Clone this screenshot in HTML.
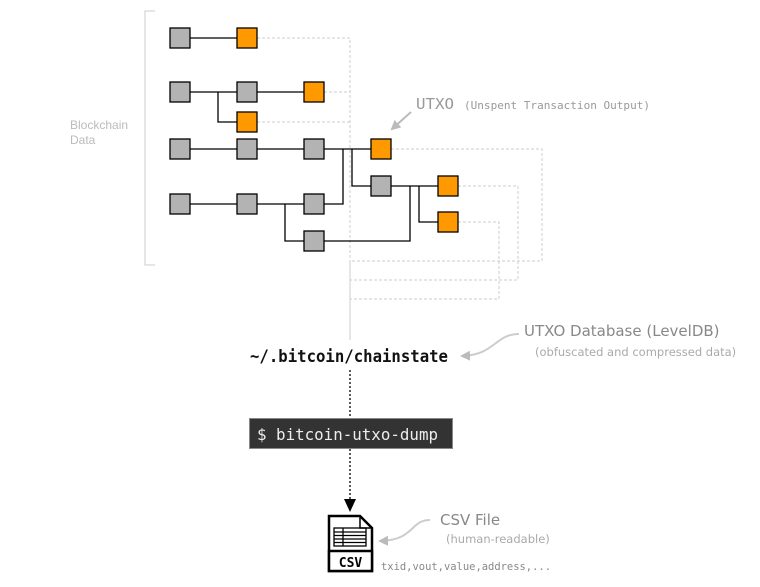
<!DOCTYPE html>
<html><head><meta charset="utf-8"><style>
html,body{margin:0;padding:0;background:#fff;}
</style></head><body>
<svg width="760" height="582" viewBox="0 0 760 582" xmlns="http://www.w3.org/2000/svg">
<defs>
<marker id="ga" markerWidth="10" markerHeight="10" refX="8" refY="5" orient="auto" markerUnits="userSpaceOnUse"><path d="M0,0 L10,5 L0,10 z" fill="#bbb"/></marker>
</defs>
<path d="M155,11 H145 V265 H155" fill="none" stroke="#ccc" stroke-width="1"/>
<text x="70" y="129" font-family="Liberation Sans, sans-serif" font-size="12" fill="#bbb">Blockchain</text>
<text x="70" y="144" font-family="Liberation Sans, sans-serif" font-size="12" fill="#bbb">Data</text>
<g fill="none" stroke="#ccc" stroke-width="1" stroke-dasharray="3,2">
<path d="M257,38 H350 V262"/>
<path d="M324,92 H350"/>
<path d="M257,122 H350"/>
<path d="M391,149 H542 V261 H350"/>
<path d="M458,186 H518 V280 H350"/>
<path d="M458,222 H499 V299 H350"/>
</g>
<path d="M350,262 V340" stroke="#ccc" stroke-width="1"/>
<g fill="none" stroke="#000" stroke-width="1.3">
<path d="M190,38 H237"/>
<path d="M190,92 H237 M218,92 V122 H237 M257,92 H304"/>
<path d="M190,149 H371"/>
<path d="M324,204 H343 V149"/>
<path d="M352,149 V186 H371"/>
<path d="M190,204 H304 M285,204 V241 H304"/>
<path d="M324,241 H410 V186"/>
<path d="M391,186 H438 M419,186 V222 H438"/>
</g>
<g stroke="#000" stroke-width="1.3">
<rect x="170" y="28" width="20" height="20" fill="#b3b3b3"/>
<rect x="237" y="28" width="20" height="20" fill="#ff9900"/>
<rect x="170" y="82" width="20" height="20" fill="#b3b3b3"/>
<rect x="237" y="82" width="20" height="20" fill="#b3b3b3"/>
<rect x="304" y="82" width="20" height="20" fill="#ff9900"/>
<rect x="237" y="112" width="20" height="20" fill="#ff9900"/>
<rect x="170" y="139" width="20" height="20" fill="#b3b3b3"/>
<rect x="237" y="139" width="20" height="20" fill="#b3b3b3"/>
<rect x="304" y="139" width="20" height="20" fill="#b3b3b3"/>
<rect x="371" y="139" width="20" height="20" fill="#ff9900"/>
<rect x="170" y="194" width="20" height="20" fill="#b3b3b3"/>
<rect x="237" y="194" width="20" height="20" fill="#b3b3b3"/>
<rect x="304" y="194" width="20" height="20" fill="#b3b3b3"/>
<rect x="304" y="231" width="20" height="20" fill="#b3b3b3"/>
<rect x="371" y="176" width="20" height="20" fill="#b3b3b3"/>
<rect x="438" y="176" width="20" height="20" fill="#ff9900"/>
<rect x="438" y="212" width="20" height="20" fill="#ff9900"/>
</g>
<path d="M411,112 L392,129" stroke="#bbb" stroke-width="2" marker-end="url(#ga)"/>
<text x="416" y="109" font-family="DejaVu Sans Mono, Liberation Mono, monospace" font-size="15" fill="#999" textLength="38" lengthAdjust="spacingAndGlyphs">UTXO</text>
<text x="464" y="109" font-family="DejaVu Sans Mono, Liberation Mono, monospace" font-size="11" fill="#999" textLength="186" lengthAdjust="spacingAndGlyphs">(Unspent Transaction Output)</text>
<text x="524" y="336" font-family="DejaVu Sans, Liberation Sans, sans-serif" font-size="15" fill="#888">UTXO Database (LevelDB)</text>
<text x="535" y="356" font-family="DejaVu Sans, Liberation Sans, sans-serif" font-size="11.5" fill="#aaa">(obfuscated and compressed data)</text>
<path d="M519,334 C495,334 495,355 462,356" fill="none" stroke="#ccc" stroke-width="2" marker-end="url(#ga)"/>
<text x="250" y="362" font-family="DejaVu Sans Mono, Liberation Mono, monospace" font-size="16.5" font-weight="bold" fill="#111" textLength="198" lengthAdjust="spacingAndGlyphs">~/.bitcoin/chainstate</text>
<path d="M350,370 V418" stroke="#000" stroke-width="1.3" stroke-dasharray="2,2"/>
<rect x="249.5" y="418.5" width="203" height="30" fill="#333" stroke="#888"/>
<text x="257" y="440" font-family="DejaVu Sans Mono, Liberation Mono, monospace" font-size="16" fill="#eee" textLength="181" lengthAdjust="spacingAndGlyphs">$ bitcoin-utxo-dump</text>
<path d="M350,449 V500" stroke="#000" stroke-width="1.3" stroke-dasharray="2,2"/>
<path d="M344,499 L356,499 L350,512 z" fill="#000"/>
<path d="M329,516 H360 L372,528 V571 H329 z" fill="#fff" stroke="#000" stroke-width="2.5"/>
<path d="M360,516 V528 H372" fill="none" stroke="#000" stroke-width="1.5"/>
<g fill="none" stroke="#000" stroke-width="1.3">
<rect x="334" y="528" width="32" height="18"/>
<path d="M334,532 H366 M334,535.5 H366 M334,539 H366 M334,542.5 H366 M343,528 V546"/>
</g>
<rect x="329" y="551" width="43" height="20" fill="#fff" stroke="#000" stroke-width="2.5"/>
<text x="350.5" y="567" text-anchor="middle" font-family="DejaVu Sans Mono, Liberation Mono, monospace" font-size="13" font-weight="bold" fill="#000">CSV</text>
<text x="440" y="525" font-family="DejaVu Sans, Liberation Sans, sans-serif" font-size="15" fill="#888">CSV File</text>
<text x="446" y="543" font-family="DejaVu Sans, Liberation Sans, sans-serif" font-size="11.5" fill="#aaa">(human-readable)</text>
<path d="M430,520 C410,520 415,540 380,541" fill="none" stroke="#ccc" stroke-width="2" marker-end="url(#ga)"/>
<text x="381" y="570" font-family="DejaVu Sans Mono, Liberation Mono, monospace" font-size="10.5" fill="#888" textLength="170" lengthAdjust="spacingAndGlyphs">txid,vout,value,address,...</text>
</svg>
</body></html>
